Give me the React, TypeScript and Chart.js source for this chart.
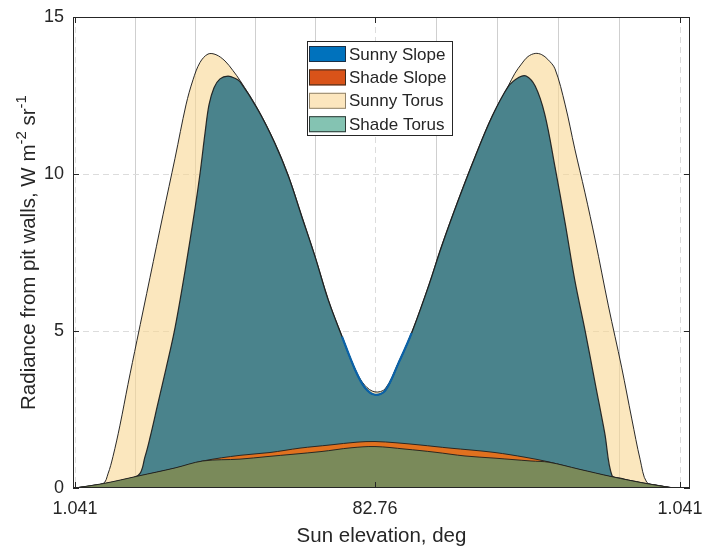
import React, { useEffect, useRef } from 'react';
import { Chart, registerables } from 'chart.js';

Chart.register(...registerables);

// ---- Data (x in "time" units along the pass; labels show sun elevation) ----
const xTickValues = [0, 5, 10.083];
const xTickLabels = ['1.041', '82.76', '1.041'];
const yTickValues = [0, 5, 10, 15];
const hourMarks = [1, 2, 3, 4, 6.02, 7.03, 8.05, 9.07];

const seriesNames = ['Sunny Slope', 'Shade Slope', 'Sunny Torus', 'Shade Torus'];

const sunnyTorusX = [0, 0.467, 0.55, 0.633, 0.75, 0.883, 1.033, 1.25, 1.467, 1.667, 1.85, 1.967, 2.083, 2.217, 2.35, 2.5, 2.63, 2.75, 3.05, 3.33, 3.56, 3.78, 4.0, 4.22, 4.45, 4.67, 4.83, 5.0, 5.17, 5.39, 5.61, 5.89, 6.11, 6.39, 6.67, 6.95, 7.22, 7.33, 7.44, 7.55, 7.67, 7.78, 7.88, 8.0, 8.17, 8.33, 8.5, 8.67, 8.89, 9.11, 9.28, 9.42, 9.53, 9.7, 9.97];
const sunnyTorusY = [0, 0.14, 0.45, 1.0, 2.0, 3.3, 4.7, 6.7, 8.7, 10.5, 12.2, 13.0, 13.55, 13.82, 13.8, 13.6, 13.3, 12.98, 12.06, 11.0, 9.93, 8.66, 7.39, 6.01, 4.84, 3.78, 3.27, 3.06, 3.16, 3.99, 4.95, 6.43, 7.71, 9.19, 10.57, 11.84, 12.8, 13.2, 13.5, 13.74, 13.84, 13.8, 13.65, 13.35, 12.2, 10.8, 9.4, 7.9, 5.8, 3.85, 2.2, 0.9, 0.18, 0.09, 0];

const sunnySlopeX = [0, 0.47, 1.05, 1.167, 1.25, 1.383, 1.517, 1.667, 1.833, 2.0, 2.083, 2.167, 2.233, 2.317, 2.417, 2.55, 2.667, 2.75, 3.05, 3.33, 3.56, 3.78, 4.0, 4.22, 4.45, 4.67, 4.83, 5.0, 5.17, 5.39, 5.61, 5.89, 6.11, 6.39, 6.67, 6.95, 7.22, 7.4, 7.52, 7.67, 7.83, 8.0, 8.17, 8.33, 8.5, 8.67, 8.83, 8.95, 9.1, 9.3, 9.5, 9.75, 9.97];
const sunnySlopeY = [0, 0.13, 0.4, 1.0, 1.6, 2.7, 3.8, 5.1, 6.9, 8.9, 10.0, 11.3, 12.2, 12.75, 13.03, 13.12, 13.05, 12.94, 12.04, 10.98, 9.91, 8.64, 7.37, 5.99, 4.82, 3.76, 3.2, 2.97, 3.1, 3.97, 4.93, 6.41, 7.69, 9.17, 10.55, 11.82, 12.78, 13.08, 13.12, 12.8, 11.9, 10.23, 8.43, 6.62, 5.03, 3.33, 1.74, 0.4, 0.31, 0.22, 0.15, 0.06, 0];

const shadeSlopeX = [0, 0.47, 1.05, 1.67, 2.13, 2.75, 3.25, 3.75, 4.25, 4.7, 5.0, 5.35, 5.75, 6.25, 6.6, 7.0, 7.5, 7.9, 8.4, 8.95, 9.5, 9.97];
const shadeSlopeY = [0, 0.13, 0.37, 0.63, 0.86, 1.04, 1.13, 1.27, 1.37, 1.46, 1.48, 1.44, 1.37, 1.27, 1.21, 1.13, 0.98, 0.83, 0.59, 0.35, 0.14, 0];

const shadeTorusX = [0, 0.47, 1.05, 1.67, 2.13, 2.75, 3.2, 4.1, 4.6, 5.0, 5.5, 6.0, 6.5, 7.0, 7.6, 7.9, 8.4, 8.95, 9.5, 9.97];
const shadeTorusY = [0, 0.14, 0.38, 0.64, 0.86, 0.92, 1.0, 1.16, 1.28, 1.32, 1.24, 1.14, 1.02, 0.95, 0.86, 0.82, 0.6, 0.36, 0.15, 0];

// ---- Styles ----
const FONT = "'Liberation Sans', Arial, Helvetica, sans-serif";
const AXIS_COLOR = '#262626';
const legendFill = ['#0072BD', '#D95319', '#FCE6BE', '#84C3B2'];
const legendEdge = ['#1b2f45', '#3a2a1e', '#8f826a', '#2e3a36'];

const pts = (xs: number[], ys: number[]) => xs.map((x, i) => ({ x, y: ys[i] }));

const gridPlugin = {
  id: 'matlabGrid',
  beforeDatasetsDraw(chart: any) {
    const { ctx, chartArea: a, scales } = chart;
    const xs = scales.x, ys = scales.y;
    ctx.save();
    ctx.beginPath();
    ctx.rect(a.left, a.top, a.right - a.left, a.bottom - a.top);
    ctx.clip();
    ctx.lineWidth = 1;
    ctx.strokeStyle = '#cfcfcf';
    ctx.setLineDash([]);
    hourMarks.forEach((v) => {
      const px = Math.round(xs.getPixelForValue(v)) + 0.5;
      ctx.beginPath(); ctx.moveTo(px, a.top); ctx.lineTo(px, a.bottom); ctx.stroke();
    });
    ctx.strokeStyle = '#dcdcdc';
    ctx.setLineDash([6, 4]);
    xTickValues.forEach((v) => {
      const px = Math.round(xs.getPixelForValue(v)) + 0.5;
      ctx.beginPath(); ctx.moveTo(px, a.top); ctx.lineTo(px, a.bottom); ctx.stroke();
    });
    yTickValues.forEach((v) => {
      const py = Math.round(ys.getPixelForValue(v)) + 0.5;
      ctx.beginPath(); ctx.moveTo(a.left, py); ctx.lineTo(a.right, py); ctx.stroke();
    });
    ctx.restore();
  },
  afterDatasetsDraw(chart: any) {
    const { ctx, chartArea: a, scales } = chart;
    const xs = scales.x, ys = scales.y;
    ctx.save();
    ctx.strokeStyle = AXIS_COLOR;
    ctx.lineWidth = 1;
    ctx.setLineDash([]);
    ctx.strokeRect(a.left + 0.5, a.top + 0.5, a.right - a.left - 1, a.bottom - a.top - 1);
    const tl = 6;
    yTickValues.forEach((v) => {
      const py = Math.round(ys.getPixelForValue(v)) + 0.5;
      ctx.beginPath();
      ctx.moveTo(a.left, py); ctx.lineTo(a.left + tl, py);
      ctx.moveTo(a.right, py); ctx.lineTo(a.right - tl, py);
      ctx.stroke();
    });
    xTickValues.forEach((v) => {
      const px = Math.round(xs.getPixelForValue(v)) + 0.5;
      ctx.beginPath();
      ctx.moveTo(px, a.bottom); ctx.lineTo(px, a.bottom - tl);
      ctx.moveTo(px, a.top); ctx.lineTo(px, a.top + tl);
      ctx.stroke();
    });
    ctx.restore();
  },
  afterDraw(chart: any) {
    const { ctx, chartArea: a } = chart;
    ctx.save();
    // Legend box
    const lx = a.left + 234, ly = a.top + 24, lw = 146, lh = 95;
    ctx.fillStyle = '#ffffff';
    ctx.fillRect(lx, ly, lw, lh);
    ctx.strokeStyle = AXIS_COLOR;
    ctx.lineWidth = 1;
    ctx.strokeRect(lx + 0.5, ly + 0.5, lw - 1, lh - 1);
    ctx.font = `17px ${FONT}`;
    ctx.textBaseline = 'middle';
    ctx.textAlign = 'left';
    seriesNames.forEach((name, i) => {
      const cy = ly + 13 + i * 23.4;
      ctx.fillStyle = legendFill[i];
      ctx.fillRect(lx + 2, cy - 8, 37, 16);
      ctx.strokeStyle = legendEdge[i];
      ctx.strokeRect(lx + 2.5, cy - 7.5, 36, 15);
      ctx.fillStyle = AXIS_COLOR;
      ctx.fillText(name, lx + 42, cy + 1);
    });

    // X title
    ctx.fillStyle = AXIS_COLOR;
    ctx.font = `20.5px ${FONT}`;
    ctx.textAlign = 'center';
    ctx.textBaseline = 'alphabetic';
    ctx.fillText('Sun elevation, deg', (a.left + a.right) / 2, 542);

    // Y title with superscripts
    const parts: [string, boolean][] = [
      ['Radiance from pit walls, W m', false],
      ['-2', true],
      [' sr', false],
      ['-1', true],
    ];
    const mainFont = `20.5px ${FONT}`;
    const supFont = `15px ${FONT}`;
    let total = 0;
    const widths = parts.map(([t, sup]) => {
      ctx.font = sup ? supFont : mainFont;
      const w = ctx.measureText(t).width;
      total += w;
      return w;
    });
    ctx.translate(35, (a.top + a.bottom) / 2);
    ctx.rotate(-Math.PI / 2);
    ctx.textAlign = 'left';
    let x = -total / 2;
    parts.forEach(([t, sup], i) => {
      ctx.font = sup ? supFont : mainFont;
      ctx.fillText(t, x, sup ? -9 : 0);
      x += widths[i];
    });
    ctx.restore();
  },
};

export default function App() {
  const ref = useRef<HTMLCanvasElement | null>(null);
  useEffect(() => {
    if (!ref.current) return;
    Chart.defaults.font.family = FONT;
    const common = { pointRadius: 0, borderWidth: 1, tension: 0.35, fill: 'origin' };
    const inV = (c: any) => c.p0.parsed.x >= 4.4 && c.p1.parsed.x <= 5.65;
    const chart = new Chart(ref.current, {
      type: 'line',
      data: {
        datasets: [
          { ...common, label: seriesNames[3], data: pts(shadeTorusX, shadeTorusY), backgroundColor: '#7A8A5A', borderColor: 'rgba(30,30,30,0.9)', order: 0 },
          { ...common, label: seriesNames[1], data: pts(shadeSlopeX, shadeSlopeY), backgroundColor: '#E1711F', borderColor: 'rgba(30,30,30,0.9)', order: 1 },
          {
            ...common, label: seriesNames[0] + ' edge', data: pts(sunnySlopeX, sunnySlopeY), fill: false,
            borderColor: 'rgba(0,0,0,0)', borderWidth: 2.2, order: 1.5,
            segment: { borderColor: (c: any) => (inV(c) ? '#0a62a8' : 'rgba(0,0,0,0)') },
          },
          { ...common, label: seriesNames[0], data: pts(sunnySlopeX, sunnySlopeY), backgroundColor: '#4A838C', borderColor: 'rgba(25,25,25,0.9)', borderWidth: 1.2, order: 2 },
          { ...common, label: seriesNames[2], data: pts(sunnyTorusX, sunnyTorusY), backgroundColor: 'rgba(248,215,147,0.6)', borderColor: 'rgba(30,30,30,0.95)', order: 3 },
        ] as any,
      },
      options: {
        responsive: false,
        animation: false,
        devicePixelRatio: 1,
        layout: { padding: { top: 17, right: 13, left: 0, bottom: 0 } },
        plugins: { legend: { display: false }, tooltip: { enabled: false } },
        scales: {
          x: {
            type: 'linear',
            min: -0.033,
            max: 10.25,
            grid: { display: false, drawTicks: false },
            border: { display: false },
            afterBuildTicks: (s: any) => { s.ticks = xTickValues.map((v) => ({ value: v })); },
            afterFit: (s: any) => { s.height = 58; s.paddingLeft = 0; s.paddingRight = 0; },
            ticks: {
              autoSkip: false,
              maxRotation: 0,
              padding: 10,
              color: AXIS_COLOR,
              font: { size: 18, family: FONT },
              callback: (_v: any, i: number) => xTickLabels[i],
            },
          },
          y: {
            type: 'linear',
            min: 0,
            max: 15,
            grid: { display: false, drawTicks: false },
            border: { display: false },
            afterBuildTicks: (s: any) => { s.ticks = yTickValues.map((v) => ({ value: v })); },
            afterFit: (s: any) => { s.width = 73; s.paddingTop = 0; s.paddingBottom = 0; },
            ticks: {
              padding: 9,
              color: AXIS_COLOR,
              font: { size: 18, family: FONT },
              callback: (v: any) => String(v),
            },
          },
        },
      } as any,
      plugins: [gridPlugin],
    });
    return () => chart.destroy();
  }, []);
  return (
    <div style={{ position: 'fixed', left: 0, top: 0, width: 703, height: 546, background: '#fff' }}>
      <canvas ref={ref} width={703} height={546} style={{ display: 'block' }} />
    </div>
  );
}
